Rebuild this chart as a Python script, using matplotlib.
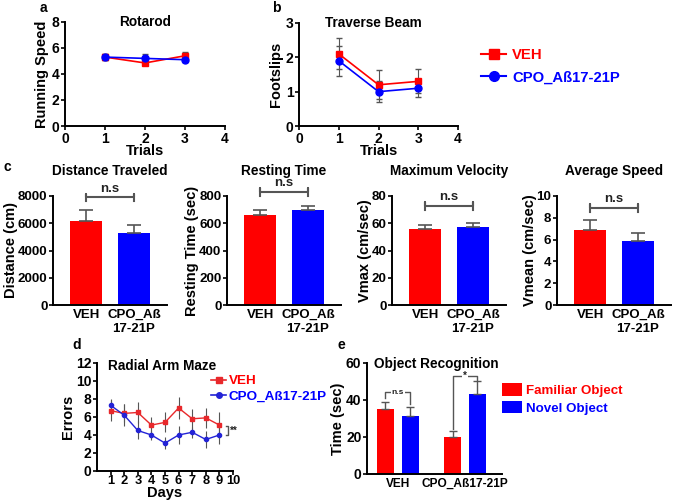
import matplotlib
matplotlib.use('Agg')
import matplotlib.pyplot as plt
from matplotlib.lines import Line2D

plt.rcParams['font.family'] = ['Liberation Sans', 'DejaVu Sans']
plt.rcParams['font.weight'] = 'bold'
plt.rcParams['axes.labelweight'] = 'bold'
plt.rcParams['axes.titleweight'] = 'bold'

RED = '#ff0000'
BLUE = '#0000ff'
GREY = '#555555'

# panel a - rotarod
trials = [1, 2, 3]
rot_veh = [5.3, 4.85, 5.4]
rot_veh_err = [0.25, 0.15, 0.3]
rot_cpo = [5.3, 5.2, 5.1]
rot_cpo_err = [0.25, 0.35, 0.15]

# panel b - traverse beam
beam_veh = [2.1, 1.2, 1.3]
beam_veh_err = [0.45, 0.42, 0.35]
beam_cpo = [1.9, 1.0, 1.1]
beam_cpo_err = [0.43, 0.3, 0.25]

# panel c - open field
groups = ['VEH', 'CPO_Aß\n17-21P']
of_titles = ['Distance Traveled', 'Resting Time', 'Maximum Velocity', 'Average Speed']
of_ylabels = ['Distance (cm)', 'Resting Time (sec)', 'Vmax (cm/sec)', 'Vmean (cm/sec)']
of_means = [[6200, 5300], [660, 700], [56, 57], [6.9, 5.9]]
of_errs = [[800, 550], [35, 28], [3, 3.5], [0.9, 0.7]]
of_ymax = [8000, 800, 80, 10]
of_yticks = [[0, 2000, 4000, 6000, 8000], [0, 200, 400, 600, 800],
             [0, 20, 40, 60, 80], [0, 2, 4, 6, 8, 10]]
of_brk = [7900, 830, 72.5, 8.9]

# panel d - radial arm maze
days = [1, 2, 3, 4, 5, 6, 7, 8, 9]
ram_veh = [6.7, 6.4, 6.5, 5.1, 5.4, 7.0, 5.8, 5.9, 5.1]
ram_veh_err = [1.2, 1.0, 1.2, 0.9, 1.1, 1.2, 1.1, 1.1, 1.4]
ram_cpo = [7.3, 6.2, 4.5, 4.0, 3.1, 4.0, 4.3, 3.5, 4.0]
ram_cpo_err = [0.7, 1.2, 1.0, 0.6, 0.7, 1.0, 0.6, 0.9, 1.0]

# panel e - object recognition
or_groups = ['VEH', 'CPO_Aß17-21P']
or_fam = [35, 20]
or_fam_err = [4, 3]
or_nov = [31.5, 43.5]
or_nov_err = [4.5, 6.5]

TICK = 10
LAB = 10.5
TITLE = 9.8

fig = plt.figure(figsize=(6.75, 5.01), dpi=100)


def style(ax):
    for s in ['top', 'right']:
        ax.spines[s].set_visible(False)
    for s in ['left', 'bottom']:
        ax.spines[s].set_linewidth(1.4)
    ax.tick_params(direction='out', length=3, width=1.2, labelsize=TICK, pad=1)
    for lab in ax.get_xticklabels() + ax.get_yticklabels():
        lab.set_fontweight('bold')


def line_panel(rect, title, ylabel, veh, veh_e, cpo, cpo_e, ymax, yticks, tx):
    ax = fig.add_axes(rect)
    ax.errorbar(trials, veh, yerr=veh_e, color=RED, marker='s', ms=5, lw=1.2,
                ecolor=GREY, elinewidth=0.8, capsize=2.5)
    ax.errorbar(trials, cpo, yerr=cpo_e, color=BLUE, marker='o', ms=5, lw=1.2,
                ecolor=GREY, elinewidth=0.8, capsize=2.5)
    ax.set_xlim(0, 4)
    ax.set_ylim(0, ymax)
    ax.set_xticks([0, 1, 2, 3, 4])
    ax.set_yticks(yticks)
    ax.text(tx, 1.0, title, transform=ax.transAxes, fontsize=TITLE,
            fontweight='bold', ha='center', va='center')
    ax.set_ylabel(ylabel, fontsize=LAB, labelpad=2)
    ax.set_xlabel('Trials', fontsize=LAB, labelpad=-1)
    style(ax)
    return ax


ax_a = line_panel([0.0963, 0.7485, 0.237, 0.2076], 'Rotarod', 'Running Speed',
                  rot_veh, rot_veh_err, rot_cpo, rot_cpo_err, 8, [0, 2, 4, 6, 8], 0.5)
ax_b = line_panel([0.443, 0.7485, 0.2356, 0.2056], 'Traverse Beam', 'Footslips',
                  beam_veh, beam_veh_err, beam_cpo, beam_cpo_err, 3, [0, 1, 2, 3], 0.47)
handles = [Line2D([], [], color=RED, marker='s', ms=7, lw=1.5),
           Line2D([], [], color=BLUE, marker='o', ms=7, lw=1.5)]
leg = ax_b.legend(handles, ['VEH', 'CPO_Aß17-21P'], loc='center left',
                  bbox_to_anchor=(1.06, 0.58), frameon=False, fontsize=10.7,
                  handlelength=1.7, handletextpad=0.4, labelspacing=0.55)
for t, c in zip(leg.get_texts(), [RED, BLUE]):
    t.set_color(c)
    t.set_fontweight('bold')
fig.text(40 / 675, 1 - 8 / 501, 'a', fontsize=10, fontweight='bold', va='center')
fig.text(272 / 675, 1 - 8 / 501, 'b', fontsize=10, fontweight='bold', va='center')

# row c
c_lefts = [53, 227, 392, 557]
for i in range(4):
    ax = fig.add_axes([c_lefts[i] / 675, 0.3912, 114 / 675, 0.2176])
    ax.bar([0, 1], of_means[i], width=0.67, color=[RED, BLUE])
    ax.errorbar([0, 1], of_means[i], yerr=[[0, 0], of_errs[i]], fmt='none',
                ecolor=GREY, elinewidth=1.2, capsize=5, capthick=1.2)
    ax.set_xlim(-0.69, 1.69)
    ax.set_ylim(0, of_ymax[i])
    ax.set_yticks(of_yticks[i])
    ax.set_xticks([0, 1])
    ax.set_xticklabels(groups)
    ax.set_title(of_titles[i], fontsize=TITLE, pad=15)
    ax.set_ylabel(of_ylabels[i], fontsize=LAB, labelpad=0)
    style(ax)
    ax.tick_params(axis='y', labelsize=9.6)
    ax.tick_params(axis='x', length=0, labelsize=9.5, pad=3)
    b = of_brk[i]
    h = of_ymax[i] * 0.035
    ax.plot([0, 0, 0, 1, 1, 1], [b - h, b + h, b, b, b + h, b - h], color=GREY,
            lw=1.5, clip_on=False)
    ax.text(0.5, b + of_ymax[i] * 0.025, 'n.s', ha='center', va='bottom',
            fontsize=9.5, fontweight='bold', color='#222222')
fig.text(3 / 675, 1 - 167 / 501, 'c', fontsize=10, fontweight='bold', va='center')

# panel d
ax_d = fig.add_axes([0.1437, 0.0599, 0.2015, 0.2156])
ax_d.errorbar(days, ram_veh, yerr=ram_veh_err, color='#e8282b', marker='s', ms=3,
              lw=1.0, ecolor=GREY, elinewidth=0.8, capsize=0)
ax_d.errorbar(days, ram_cpo, yerr=ram_cpo_err, color='#2323d6', marker='o', ms=3,
              lw=1.0, ecolor=GREY, elinewidth=0.8, capsize=0)
ax_d.set_xlim(0, 10)
ax_d.set_ylim(0, 12)
ax_d.set_xticks(range(1, 11))
ax_d.set_yticks([0, 2, 4, 6, 8, 10, 12])
ax_d.text(0.48, 0.97, 'Radial Arm Maze', transform=ax_d.transAxes, fontsize=TITLE,
          fontweight='bold', ha='center', va='center')
ax_d.set_ylabel('Errors', fontsize=LAB, labelpad=1)
ax_d.set_xlabel('Days', fontsize=LAB, labelpad=-0.5)
style(ax_d)
ax_d.tick_params(axis='x', labelsize=9.3, pad=0)
ax_d.plot([9.5, 9.6, 9.6, 9.5], [5.0, 5.0, 4.0, 4.0], color=GREY, lw=1, clip_on=False)
ax_d.text(9.75, 4.5, '**', fontsize=7, va='center', color='#222222')
handles_d = [Line2D([], [], color='#e8282b', marker='s', ms=4, lw=1.2),
             Line2D([], [], color='#2323d6', marker='o', ms=4, lw=1.2)]
leg_d = ax_d.legend(handles_d, ['VEH', 'CPO_Aß17-21P'], loc='upper left',
                    bbox_to_anchor=(0.8, 0.94), frameon=False,
                    fontsize=9.7, handlelength=1.1, handletextpad=0.2,
                    labelspacing=0.25, borderaxespad=0)
for t, c in zip(leg_d.get_texts(), [RED, BLUE]):
    t.set_color(c)
    t.set_fontweight('bold')
fig.text(72 / 675, 1 - 345 / 501, 'd', fontsize=10, fontweight='bold', va='center')

# panel e
ax_e = fig.add_axes([0.5437, 0.0539, 0.2, 0.2216])
xs = [0, 1]
off = 0.185
ax_e.bar([x - off for x in xs], or_fam, width=0.26, color=RED, label='Familiar Object')
ax_e.bar([x + off for x in xs], or_nov, width=0.26, color=BLUE, label='Novel Object')
ax_e.errorbar([x - off for x in xs], or_fam, yerr=[[0, 0], or_fam_err], fmt='none',
              ecolor=GREY, elinewidth=1.0, capsize=3, capthick=1.0)
ax_e.errorbar([x + off for x in xs], or_nov, yerr=[[0, 0], or_nov_err], fmt='none',
              ecolor=GREY, elinewidth=1.0, capsize=3, capthick=1.0)
ax_e.set_xlim(-0.46, 1.55)
ax_e.set_ylim(0, 60)
ax_e.set_yticks([0, 20, 40, 60])
ax_e.set_xticks(xs)
ax_e.set_xticklabels(or_groups)
ax_e.set_ylabel('Time (sec)', fontsize=LAB, labelpad=1)
style(ax_e)
ax_e.tick_params(axis='x', length=0, labelsize=8.6, pad=3)
ax_e.text(0.05, 0.99, 'Object Recognition', transform=ax_e.transAxes, fontsize=TITLE,
          fontweight='bold', va='center', ha='left')
ax_e.plot([-off, -off, off, off], [41, 44.3, 44.3, 38], color=GREY, lw=1)
ax_e.text(0, 44.3, 'n.s', ha='center', va='center', fontsize=6, color='#222222',
          bbox=dict(fc='white', ec='none', pad=0.5))
ax_e.plot([1 - off, 1 - off, 1 + off, 1 + off], [24.5, 53, 53, 51], color=GREY, lw=1)
ax_e.text(1, 53, '*', ha='center', va='center', fontsize=7, color='#222222',
          bbox=dict(fc='white', ec='none', pad=0.5))
leg_e = ax_e.legend(loc='upper left', bbox_to_anchor=(0.96, 0.87), frameon=False,
                    fontsize=9.6, handlelength=1.5, handleheight=1.1,
                    handletextpad=0.3, labelspacing=0.3, borderaxespad=0)
for t, c in zip(leg_e.get_texts(), [RED, BLUE]):
    t.set_color(c)
    t.set_fontweight('bold')
fig.text(338 / 675, 1 - 345 / 501, 'e', fontsize=10, fontweight='bold', va='center')

fig.savefig('out.png', dpi=100)
